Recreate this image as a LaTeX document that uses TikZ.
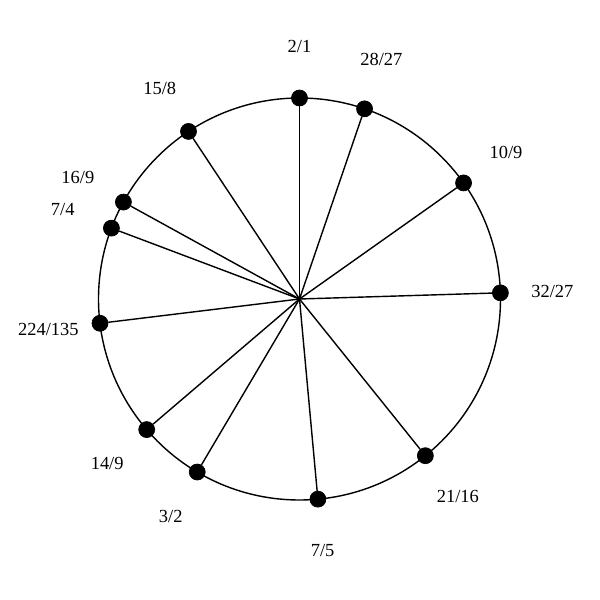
\documentclass[tikz,border=0pt]{standalone}
\usepackage{fontspec}
\setmainfont{Liberation Serif}
\usetikzlibrary{positioning}

\begin{document}
\begin{tikzpicture}
		[   dnode/.style={draw=black,fill=black,circle,inner sep=0pt,minimum size=3.2mm},
		    rnode/.style={inner sep=0pt,font=\fontsize{10.5}{12}\selectfont},
		]
		\tikzset{spoke/.style={draw,line width=0.8pt}}
		\useasboundingbox (-5.99,-6.02) rectangle (6.01,5.98);
		
		\coordinate (c) at (0,0);
		\draw[line width=0.8pt] (c) circle (4.02);
		
		% angle = 90 - 0.3 * cents
		\foreach \a/\t [count=\i] in {90/2\slash 1, 71.11/28\slash 27, 35.28/10\slash 9, 1.76/32\slash 27,
			-51.23/21\slash 16, -84.75/7\slash 5, -120.59/3\slash 2, -139.48/14\slash 9,
			-173.06/224\slash 135, -200.65/7\slash 4, -208.83/16\slash 9, -236.48/15\slash 8}
		{
			\node[dnode] (p-\i) at (\a:4.02) {};
			\node[rnode] (t-\i) at (\a:5.06) {\t};
			\path[spoke] (c) -- (p-\i);
		}
\end{tikzpicture}
\end{document}
